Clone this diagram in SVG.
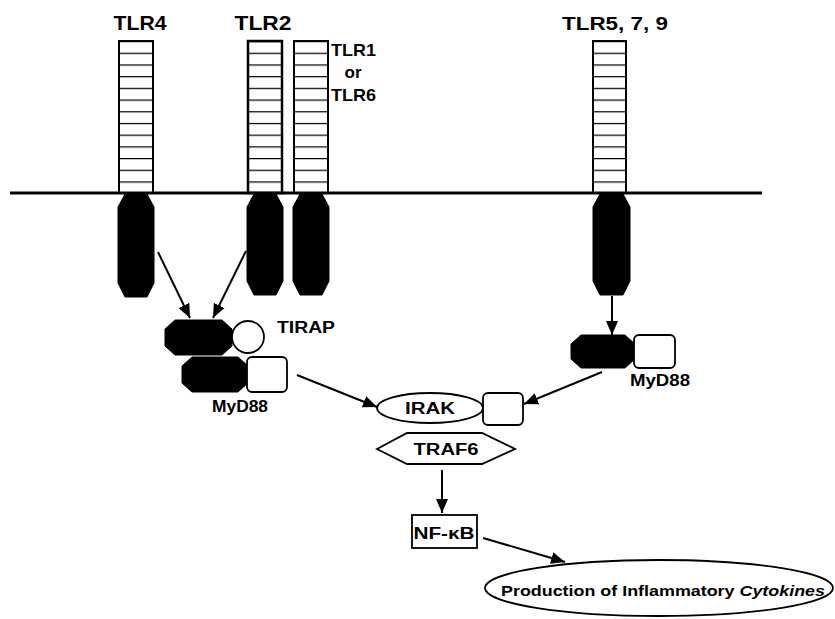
<svg xmlns="http://www.w3.org/2000/svg" width="835" height="619" viewBox="0 0 835 619">
<defs>
<style>
.t{font-family:"Liberation Sans",Arial,sans-serif;font-weight:bold;fill:#000}
.blk{fill:#000;stroke:#000;stroke-width:1}
.wb{fill:#fff;stroke:#000;stroke-width:1.8}
.ar{stroke:#000;stroke-width:2;fill:none;marker-end:url(#ah)}
</style>
<marker id="ah" markerUnits="userSpaceOnUse" markerWidth="14" markerHeight="14" viewBox="0 0 14 12" refX="14" refY="6" orient="auto">
<path d="M0,0 L14,6 L0,12 Z" fill="#000"/>
</marker>
<pattern id="stripes" patternUnits="userSpaceOnUse" x="0" y="41" width="40" height="11.7">
<line x1="0" y1="0.6" x2="40" y2="0.6" stroke="#000" stroke-width="1.3"/>
</pattern>
</defs>

<!-- membrane -->
<line x1="10" y1="193" x2="762" y2="193" stroke="#000" stroke-width="3"/>

<g id="TLR4">
<text class="t" x="140" y="30" font-size="20" text-anchor="middle" textLength="53" lengthAdjust="spacingAndGlyphs">TLR4</text>
<rect x="119" y="41" width="34" height="152" fill="url(#stripes)" stroke="#000" stroke-width="2"/>
<path class="blk" d="M125,194 L147,194 L154,207 L154,283 L147,297 L125,297 L118,283 L118,207 Z"/>
</g>

<g id="TLR2">
<text class="t" x="263" y="30" font-size="20" text-anchor="middle" textLength="57" lengthAdjust="spacingAndGlyphs">TLR2</text>
<rect x="248" y="41" width="34" height="152" fill="url(#stripes)" stroke="#000" stroke-width="2.5"/>
<path class="blk" d="M254,194 L276,194 L283,207 L283,281 L276,295 L254,295 L247,281 L247,207 Z"/>
</g>

<g id="TLR1-TLR6">
<rect x="294" y="41" width="34" height="152" fill="url(#stripes)" stroke="#000" stroke-width="2"/>
<path class="blk" d="M300,194 L322,194 L329,207 L329,281 L322,295 L300,295 L293,281 L293,207 Z"/>
<text class="t" x="331" y="56" font-size="17" textLength="45" lengthAdjust="spacingAndGlyphs">TLR1</text>
<text class="t" x="353" y="78" font-size="17" text-anchor="middle">or</text>
<text class="t" x="331" y="101" font-size="17" textLength="45" lengthAdjust="spacingAndGlyphs">TLR6</text>
</g>

<g id="TLR5-7-9">
<text class="t" x="562" y="30" font-size="19" textLength="106" lengthAdjust="spacingAndGlyphs">TLR5, 7, 9</text>
<rect x="593" y="41" width="33" height="152" fill="url(#stripes)" stroke="#000" stroke-width="2"/>
<path class="blk" d="M600,194 L623,194 L630,207 L630,281 L623,295 L600,295 L593,281 L593,207 Z"/>
</g>

<g id="TIRAP">
<path class="blk" d="M175,320 L222,320 L232,329 L232,346 L222,355 L175,355 L165,346 L165,329 Z"/>
<circle class="wb" cx="248" cy="337" r="16"/>
<text class="t" x="277" y="333" font-size="16" textLength="58" lengthAdjust="spacingAndGlyphs">TIRAP</text>
</g>

<g id="MyD88-left">
<path class="blk" d="M192,357 L238,357 L248,366 L248,383 L238,392 L192,392 L182,383 L182,366 Z"/>
<rect class="wb" x="247" y="357" width="40" height="35" rx="5"/>
<text class="t" x="240" y="412" font-size="16" text-anchor="middle" textLength="56" lengthAdjust="spacingAndGlyphs">MyD88</text>
</g>

<g id="MyD88-right">
<path class="blk" d="M581,335 L625,335 L635,344 L635,359 L625,368 L581,368 L571,359 L571,344 Z"/>
<rect class="wb" x="634" y="335" width="41" height="33" rx="5"/>
<text class="t" x="660" y="386" font-size="16" text-anchor="middle" textLength="60" lengthAdjust="spacingAndGlyphs">MyD88</text>
</g>

<g id="IRAK">
<ellipse class="wb" cx="430" cy="408" rx="53" ry="15"/>
<text class="t" x="430" y="414" font-size="16" text-anchor="middle" textLength="50" lengthAdjust="spacingAndGlyphs">IRAK</text>
<rect class="wb" x="483" y="393" width="40" height="32" rx="5"/>
</g>

<g id="TRAF6">
<polygon class="wb" points="377,449 407,433 482,433 515,449 482,464 407,464"/>
<text class="t" x="446" y="455" font-size="16" text-anchor="middle" textLength="65" lengthAdjust="spacingAndGlyphs">TRAF6</text>
</g>

<g id="NF-kB">
<rect class="wb" x="412" y="515" width="65" height="33"/>
<text class="t" x="444" y="539" font-size="16" text-anchor="middle" textLength="61" lengthAdjust="spacingAndGlyphs">NF-κB</text>
</g>

<g id="Production">
<ellipse class="wb" cx="659" cy="588" rx="174" ry="28"/>
<text class="t" x="501" y="596" font-size="15.5" textLength="324" lengthAdjust="spacingAndGlyphs">Production of Inflammatory <tspan font-style="italic">Cytokines</tspan></text>
</g>

<g id="connectors">
<line class="ar" x1="158" y1="252" x2="190" y2="318"/>
<line class="ar" x1="246" y1="251" x2="213" y2="318"/>
<line class="ar" x1="612" y1="296" x2="612" y2="335"/>
<line class="ar" x1="297" y1="375" x2="377" y2="407"/>
<line class="ar" x1="602" y1="372" x2="524" y2="404"/>
<line class="ar" x1="442" y1="470" x2="442" y2="513"/>
<line class="ar" x1="483" y1="538" x2="565" y2="562"/>
</g>
</svg>
